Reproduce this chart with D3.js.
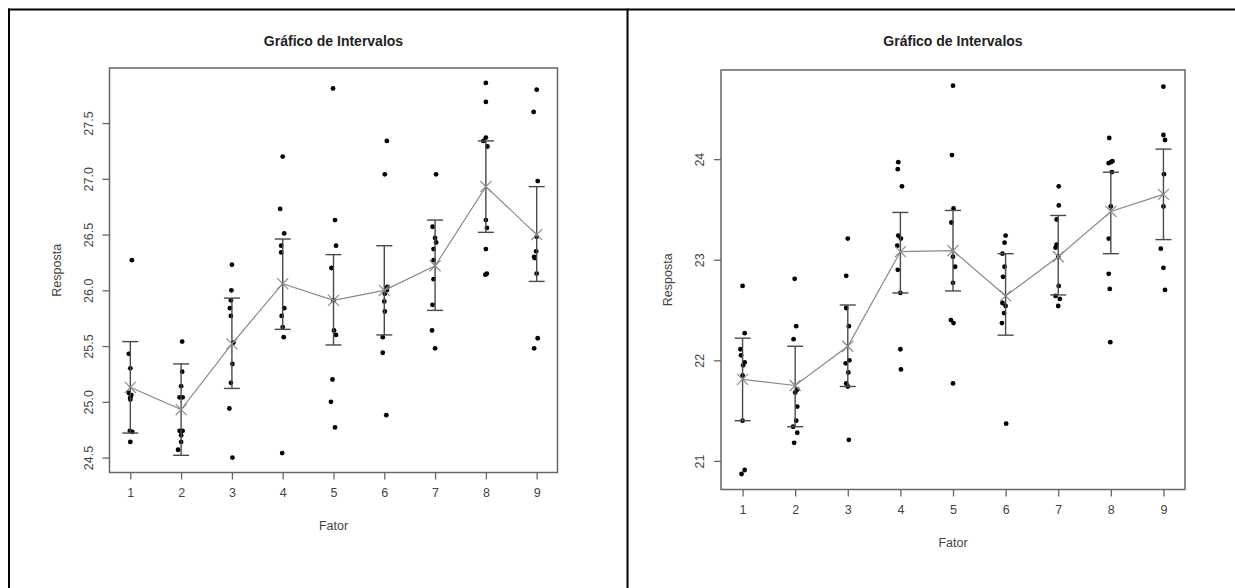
<html>
<head>
<meta charset="utf-8">
<style>
    body { margin:0; background:white; }
    svg text { font-family: "Liberation Sans", Arial, sans-serif; }
</style>
</head>
<body>
<svg id="plot"></svg>
<script src="https://d3js.org/d3.v7.min.js"></script>
<script>

// ---- data ----
var factors = [1,2,3,4,5,6,7,8,9];

var leftMeans = [25.13,24.93,25.52,26.06,25.91,26.00,26.22,26.93,26.50];
var leftLow   = [24.72,24.52,25.12,25.65,25.51,25.60,25.82,26.52,26.08];
var leftHigh  = [25.54,25.34,25.93,26.46,26.32,26.40,26.63,27.34,26.93];
var leftPoints = [
    [26.27,25.43,25.30,25.08,25.06,25.04,25.02,24.74,24.73,24.64],
    [25.54,25.27,25.14,25.04,25.04,24.74,24.74,24.70,24.64,24.57],
    [26.23,26.00,25.91,25.84,25.77,25.53,25.34,25.17,24.94,24.50],
    [27.20,26.73,26.51,26.40,26.34,25.84,25.77,25.67,25.58,24.54],
    [27.81,26.63,26.40,26.20,25.91,25.64,25.60,25.20,25.00,24.77],
    [27.34,27.04,26.03,26.00,25.97,25.90,25.81,25.58,25.44,24.88],
    [27.04,26.57,26.47,26.43,26.37,26.27,26.10,25.87,25.64,25.48],
    [27.86,27.69,27.37,27.34,27.29,26.63,26.56,26.37,26.15,26.14],
    [27.80,27.60,26.98,26.48,26.35,26.30,26.29,26.15,25.57,25.48]
];
// horizontal jitter of each point, in factor units
var leftJitter = [
    [0.03,-0.03,0,-0.03,0.02,0,0,-0.01,0.04,0],
    [0.02,0.02,0,-0.03,0.03,-0.03,0.03,0,0,-0.06],
    [0,-0.01,-0.02,-0.04,-0.02,0.03,0.01,-0.02,-0.05,0.01],
    [0,-0.05,0.03,-0.03,-0.03,0.03,-0.02,0,0.02,-0.01],
    [-0.01,0.03,0.05,-0.04,0,0.01,0.05,-0.02,-0.05,0.03],
    [0.05,0.01,0.06,0.05,0.01,0,0.01,-0.03,-0.03,0.04],
    [0.02,-0.05,0,0.02,-0.03,-0.03,-0.03,-0.05,-0.06,0],
    [0,0,0,-0.05,0.03,0,0.02,0,0.02,-0.01],
    [0,-0.06,0.02,0,-0.01,-0.05,-0.04,0,0.02,-0.05]
];
var leftTicks = [24.5,25.0,25.5,26.0,26.5,27.0,27.5];

var rightMeans = [21.81,21.75,22.14,23.08,23.09,22.64,23.03,23.48,23.65];
var rightLow   = [21.40,21.34,21.74,22.67,22.69,22.25,22.65,23.06,23.20];
var rightHigh  = [22.22,22.14,22.55,23.47,23.49,23.06,23.44,23.87,24.10];
var rightPoints = [
    [22.74,22.27,22.11,22.05,21.98,21.95,21.85,21.40,20.91,20.87],
    [22.81,22.34,22.21,21.71,21.68,21.54,21.40,21.34,21.28,21.18],
    [23.21,22.84,22.52,22.34,22.00,21.97,21.88,21.77,21.74,21.21],
    [23.97,23.90,23.73,23.24,23.21,23.14,22.90,22.67,22.11,21.91],
    [24.73,24.04,23.51,23.37,23.03,22.93,22.77,22.40,22.37,21.77],
    [23.24,23.17,23.06,22.93,22.83,22.57,22.54,22.47,22.37,21.37],
    [23.73,23.54,23.40,23.15,23.12,23.03,22.74,22.64,22.61,22.54],
    [24.21,23.98,23.97,23.96,23.87,23.53,23.21,22.86,22.71,22.18],
    [24.72,24.24,24.19,23.85,23.53,23.11,22.92,22.70]
];
var rightJitter = [
    [0,0.04,-0.04,-0.03,0.04,0.01,0,0,0.04,-0.02],
    [-0.01,0.02,-0.03,0.04,0,0.04,0.02,-0.04,0.04,-0.02],
    [0,-0.03,-0.03,0.02,0.03,-0.04,0.01,-0.03,0,0.02],
    [-0.04,-0.05,0.03,-0.04,0.01,-0.06,-0.05,0,0,0.01],
    [0,-0.02,0.01,-0.03,0,0.04,0,-0.04,0.01,0],
    [0,-0.02,-0.06,-0.02,-0.05,-0.06,0,-0.03,-0.07,0.01],
    [0.01,0.01,-0.03,-0.03,-0.05,0,0.01,-0.05,0.03,0],
    [-0.03,0.03,0,-0.04,0.02,0,-0.04,-0.04,-0.02,-0.01],
    [0,0,0.03,0.01,0,-0.05,0,0.03]
];
var rightTicks = [21,22,23,24];

var titleText = "Gráfico de Intervalos";
var xLabel = "Fator";
var yLabel = "Resposta";

// ---- layout ----
var screen = {width:1235, height:588};

var svg = d3.select("#plot")
    .attr("width",screen.width)
    .attr("height",screen.height);

//outer frame (top, left and the divider between panels)
var frame = svg.append("g").attr("stroke","black").attr("stroke-width",2);
frame.append("line").attr("x1",8).attr("x2",screen.width).attr("y1",9.5).attr("y2",9.5);
frame.append("line").attr("x1",9).attr("x2",9).attr("y1",8.5).attr("y2",screen.height);
frame.append("line").attr("x1",627.5).attr("x2",627.5).attr("y1",8.5).attr("y2",screen.height);

var drawPanel = function(box,yDomain,means,low,high,points,jitter,ticks,fmt)
{
    var xScale = d3.scaleLinear()
        .domain([0.59,9.41])
        .range([box.left,box.right]);

    var yScale = d3.scaleLinear()
        .domain(yDomain)
        .range([box.bottom,box.top]);

    var g = svg.append("g");

    //axes
    var xAxis = d3.axisBottom(xScale)
        .tickValues(factors)
        .tickFormat(d3.format("d"))
        .tickSize(7)
        .tickPadding(9);

    var yAxis = d3.axisLeft(yScale)
        .tickValues(ticks)
        .tickFormat(d3.format(fmt))
        .tickSize(7)
        .tickPadding(4);

    var xg = g.append("g")
        .attr("transform","translate(0,"+box.bottom+")")
        .call(xAxis);

    var yg = g.append("g")
        .attr("transform","translate("+box.left+",0)")
        .call(yAxis);

    xg.select(".domain").remove();
    yg.select(".domain").remove();

    g.selectAll(".tick line").attr("stroke","#666").attr("stroke-width",1.3);
    g.selectAll(".tick text")
        .attr("fill","#444")
        .attr("font-size",12.5);

    //rotated y tick labels, as in R
    yg.selectAll(".tick text")
        .attr("text-anchor","middle")
        .attr("x",null)
        .attr("dy",null)
        .attr("transform","translate(-17,0) rotate(-90)");

    //plot box
    g.append("rect")
        .attr("x",box.left)
        .attr("y",box.top)
        .attr("width",box.right-box.left)
        .attr("height",box.bottom-box.top)
        .attr("fill","none")
        .attr("stroke","#666")
        .attr("stroke-width",1.5);

    //points
    points.forEach(function(grp,i)
    {
        g.append("g").selectAll("circle")
            .data(grp)
            .enter()
            .append("circle")
            .attr("cx",function(d,j){ return xScale(factors[i]+jitter[i][j]); })
            .attr("cy",function(d){ return yScale(d); })
            .attr("r",2.4)
            .attr("fill","black");
    });

    //error bars
    var bars = g.append("g")
        .attr("stroke","#4a4a4a")
        .attr("stroke-width",1.4);

    factors.forEach(function(f,i)
    {
        var cx = xScale(f);
        bars.append("line").attr("x1",cx).attr("x2",cx)
            .attr("y1",yScale(low[i])).attr("y2",yScale(high[i]));
        bars.append("line").attr("x1",cx-8).attr("x2",cx+8)
            .attr("y1",yScale(low[i])).attr("y2",yScale(low[i]));
        bars.append("line").attr("x1",cx-8).attr("x2",cx+8)
            .attr("y1",yScale(high[i])).attr("y2",yScale(high[i]));
    });

    //line of means
    var line = d3.line()
        .x(function(d,i){ return xScale(factors[i]); })
        .y(function(d){ return yScale(d); });

    g.append("path")
        .datum(means)
        .attr("d",line)
        .attr("fill","none")
        .attr("stroke","#8a8a8a")
        .attr("stroke-width",1.2);

    //x markers for the means
    var crosses = g.append("g")
        .attr("stroke","#8a8a8a")
        .attr("stroke-width",1.2);

    means.forEach(function(m,i)
    {
        var cx = xScale(factors[i]), cy = yScale(m), s = 5.5;
        crosses.append("path")
            .attr("d","M"+(cx-s)+","+(cy-s)+"L"+(cx+s)+","+(cy+s)
                +"M"+(cx-s)+","+(cy+s)+"L"+(cx+s)+","+(cy-s));
    });

    //labels
    var midX = (box.left+box.right)/2;

    g.append("text")
        .text(titleText)
        .attr("x",midX)
        .attr("y",46)
        .attr("text-anchor","middle")
        .attr("font-size",14)
        .attr("font-weight","bold")
        .attr("fill","#222");

    g.append("text")
        .text(xLabel)
        .attr("x",midX)
        .attr("y",box.bottom+57)
        .attr("text-anchor","middle")
        .attr("font-size",12.5)
        .attr("fill","#444");

    g.append("g")
        .attr("transform","translate("+(box.left-49)+","+((box.top+box.bottom)/2)+")")
        .append("text")
        .text(yLabel)
        .attr("text-anchor","middle")
        .attr("transform","rotate(-90)")
        .attr("font-size",12.5)
        .attr("fill","#444");
}

drawPanel({left:109.5,right:557.5,top:68,bottom:472.5},
    [24.366,27.994],leftMeans,leftLow,leftHigh,leftPoints,leftJitter,leftTicks,".1f");

drawPanel({left:721,right:1185,top:70,bottom:489.5},
    [20.716,24.886],rightMeans,rightLow,rightHigh,rightPoints,rightJitter,rightTicks,"d");

</script>
</body>
</html>
